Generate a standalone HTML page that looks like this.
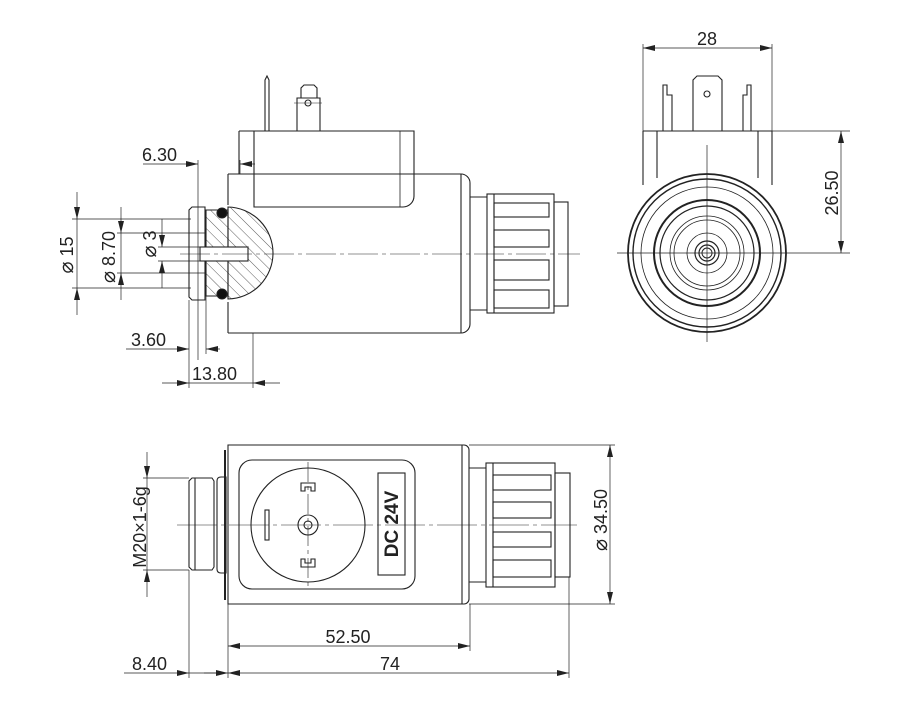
<!DOCTYPE html>
<html><head><meta charset="utf-8"><style>
html,body{margin:0;padding:0;background:#fff}
svg{display:block}
text{font-family:"Liberation Sans","DejaVu Sans",sans-serif;font-size:18px;fill:#222}
.d{font-family:"DejaVu Sans",sans-serif;font-size:20px}
</style></head><body>
<svg width="900" height="711" viewBox="0 0 900 711" xmlns="http://www.w3.org/2000/svg">
<defs>
<marker id="a" viewBox="0 0 12 6" refX="12" refY="3" markerWidth="12" markerHeight="6" markerUnits="userSpaceOnUse" orient="auto-start-reverse"><path d="M0,0L12,3L0,6z" fill="#222"/></marker>
<pattern id="h" width="8" height="8" patternUnits="userSpaceOnUse" patternTransform="rotate(-45)"><line x1="0" y1="0" x2="0" y2="8" stroke="#333" stroke-width="0.8"/></pattern>
</defs>
<g fill="none" stroke="#222" stroke-width="1.1">
<path d="M265,131V80L267,76L269,80V131"/>
<path d="M297,131V98H320V131"/>
<path d="M301,98V88L304,85H314L317,88V98"/>
<circle cx="308" cy="103" r="3"/>
<line x1="294" y1="103" x2="322" y2="103" stroke-width="0.6"/>
<path d="M239,131H414V196A11,11 0 0 1 403,207H254V131"/>
<path d="M239,131V174"/>
<path d="M400,131V207" stroke-width="0.8"/>
<path d="M228,174H461A9,9 0 0 1 470,183V324A9,9 0 0 1 461,333H228"/>
<line x1="461" y1="174" x2="461" y2="333"/>
<line x1="228" y1="174" x2="228" y2="205"/><line x1="228" y1="302" x2="228" y2="333"/>
<path d="M470,197H487M470,310H487"/>
<rect x="487" y="194" width="67" height="119"/>
<rect x="554" y="202" width="14" height="104"/>
<line x1="494" y1="194" x2="494" y2="313"/>
<rect x="494" y="203" width="55" height="14"/><rect x="494" y="230" width="55" height="17"/>
<rect x="494" y="260" width="55" height="20"/><rect x="494" y="290" width="55" height="18"/>
<path d="M228,207A46,46 0 0 1 273,253A46,46 0 0 1 228,299Z" fill="url(#h)"/>
<path d="M206,210H228V296H206Z" fill="url(#h)"/>
<path d="M192,207H205V300H192L189,297V210Z" fill="#fff"/>
<rect x="200" y="247" width="48" height="14" fill="#fff"/>
<circle cx="222" cy="213" r="5" fill="#111"/><circle cx="222" cy="294" r="5" fill="#111"/>
<path d="M180,254H580" stroke-width="0.6" stroke-dasharray="30,4,4,4"/>
<g stroke-width="0.7">
<line x1="143" y1="164" x2="198" y2="164" marker-end="url(#a)"/>
<line x1="255" y1="164" x2="240" y2="164" marker-end="url(#a)"/>
<line x1="198" y1="160" x2="198" y2="360"/><line x1="240" y1="160" x2="240" y2="174"/>
<line x1="77" y1="192" x2="77" y2="219" marker-end="url(#a)"/><line x1="77" y1="315" x2="77" y2="288" marker-end="url(#a)"/><line x1="77" y1="219" x2="77" y2="288"/>
<line x1="72" y1="219" x2="191" y2="219"/><line x1="72" y1="288" x2="191" y2="288"/>
<line x1="121" y1="207" x2="121" y2="233" marker-end="url(#a)"/><line x1="121" y1="300" x2="121" y2="273" marker-end="url(#a)"/><line x1="121" y1="233" x2="121" y2="273"/>
<line x1="117" y1="233" x2="206" y2="233"/><line x1="117" y1="273" x2="206" y2="273"/>
<line x1="162" y1="219" x2="162" y2="247" marker-end="url(#a)"/><line x1="162" y1="288" x2="162" y2="261" marker-end="url(#a)"/>
<line x1="158" y1="247" x2="200" y2="247"/><line x1="158" y1="261" x2="200" y2="261"/>
<line x1="126" y1="349" x2="189" y2="349" marker-end="url(#a)"/><line x1="220" y1="349" x2="206" y2="349" marker-end="url(#a)"/>
<line x1="189" y1="300" x2="189" y2="388"/><line x1="206" y1="296" x2="206" y2="354"/>
<line x1="162" y1="383" x2="189" y2="383" marker-end="url(#a)"/><line x1="280" y1="383" x2="253" y2="383" marker-end="url(#a)"/><line x1="189" y1="383" x2="253" y2="383"/>
<line x1="253" y1="333" x2="253" y2="388"/>
</g>
<path d="M663,131V85H667V95H672V131M743,131V95H747V85H751V131"/>
<path d="M693,131V80L697,76H718L722,80V131"/>
<circle cx="707" cy="94" r="3"/>
<path d="M643,131H772V185M643,131V185M657,131V178M758,131V178"/>
<circle cx="707" cy="253" r="79" stroke-width="1.8"/>
<circle cx="707" cy="253" r="74" stroke-width="1.4"/>
<circle cx="707" cy="253" r="66" stroke-width="0.8"/>
<circle cx="707" cy="253" r="53" stroke-width="2"/>
<circle cx="707" cy="253" r="47" stroke-width="1.2"/>
<circle cx="707" cy="253" r="37" stroke-width="0.8"/>
<circle cx="707" cy="253" r="33" stroke-width="0.8"/>
<circle cx="707" cy="253" r="20" stroke-width="0.8"/>
<circle cx="707" cy="253" r="12" stroke-width="1.2"/>
<circle cx="707" cy="253" r="8" stroke-width="1.2"/>
<circle cx="707" cy="253" r="5" stroke-width="1"/>
<g stroke-width="0.7">
<path d="M617,253H850M707,145V342"/>
<line x1="643" y1="48" x2="772" y2="48" marker-start="url(#a)" marker-end="url(#a)"/>
<path d="M643,44V131M772,44V131M772,131H850"/>
<line x1="841" y1="131" x2="841" y2="253" marker-start="url(#a)" marker-end="url(#a)"/>
</g>
<path d="M228,445H462V604H228Z"/>
<path d="M462,445H464A5,5 0 0 1 469,450V599A5,5 0 0 1 464,604H462"/>
<path d="M225,450V600" stroke-width="2"/>
<rect x="239" y="460" width="176" height="129" rx="13"/>
<circle cx="308" cy="525" r="57"/>
<circle cx="308" cy="525" r="10"/><circle cx="308" cy="525" r="4"/>
<rect x="265" y="510" width="4" height="30"/>
<path d="M301,491V483H315V491H311V487H305V491ZM301,559V567H315V559H311V563H305V559Z"/>
<rect x="378" y="473" width="27" height="102"/>
<path d="M192,478H212L214,481V567L212,570H192L189,567V481Z"/>
<path d="M195,478V570"/>
<path d="M217,481Q217,477 221,477H226V573H221Q217,573 217,569Z"/>
<path d="M469,468H486M469,582H486"/>
<rect x="486" y="463" width="69" height="124"/>
<rect x="555" y="473" width="15" height="104"/>
<line x1="493" y1="463" x2="493" y2="587"/>
<rect x="493" y="475" width="58" height="15"/><rect x="493" y="502" width="58" height="16"/>
<rect x="493" y="532" width="58" height="15"/><rect x="493" y="560" width="58" height="17"/>
<path d="M177,525H577" stroke-width="0.6" stroke-dasharray="40,4,4,4"/>
<path d="M308,462V590" stroke-width="0.6" stroke-dasharray="20,4,4,4"/>
<g stroke-width="0.7">
<line x1="147" y1="452" x2="147" y2="478" marker-end="url(#a)"/><line x1="147" y1="597" x2="147" y2="570" marker-end="url(#a)"/><line x1="147" y1="478" x2="147" y2="570"/>
<path d="M143,478H189M143,570H189"/>
<line x1="610" y1="445" x2="610" y2="604" marker-start="url(#a)" marker-end="url(#a)"/>
<path d="M469,445H615M469,604H615"/>
<line x1="228" y1="646" x2="470" y2="646" marker-start="url(#a)" marker-end="url(#a)"/>
<path d="M228,604V678M470,604V651M189,570V678M569,577V678"/>
<line x1="228" y1="673" x2="569" y2="673" marker-start="url(#a)" marker-end="url(#a)"/>
<line x1="124" y1="673" x2="189" y2="673" marker-end="url(#a)"/>
<line x1="189" y1="673" x2="216" y2="673"/>
<line x1="204" y1="673" x2="228" y2="673" marker-end="url(#a)"/>
</g>
</g>
<text x="142" y="161">6.30</text>
<text x="131" y="346">3.60</text>
<text x="192" y="380">13.80</text>
<text transform="translate(73,255) rotate(-90)" text-anchor="middle"><tspan class="d">⌀</tspan> 15</text>
<text transform="translate(115,257) rotate(-90)" text-anchor="middle"><tspan class="d">⌀</tspan> 8.70</text>
<text transform="translate(156,244) rotate(-90)" text-anchor="middle"><tspan class="d">⌀</tspan> 3</text>
<text x="707" y="45" text-anchor="middle">28</text>
<text transform="translate(838,193) rotate(-90)" text-anchor="middle">26.50</text>
<text transform="translate(146,527) rotate(-90)" text-anchor="middle">M20×1-6g</text>
<text transform="translate(607,520) rotate(-90)" text-anchor="middle"><tspan class="d">⌀</tspan> 34.50</text>
<text transform="translate(398,524) rotate(-90)" text-anchor="middle" style="font-weight:bold;font-size:19px">DC 24V</text>
<text x="348" y="643" text-anchor="middle">52.50</text>
<text x="390" y="670" text-anchor="middle">74</text>
<text x="132" y="670">8.40</text>
</svg>
</body></html>
